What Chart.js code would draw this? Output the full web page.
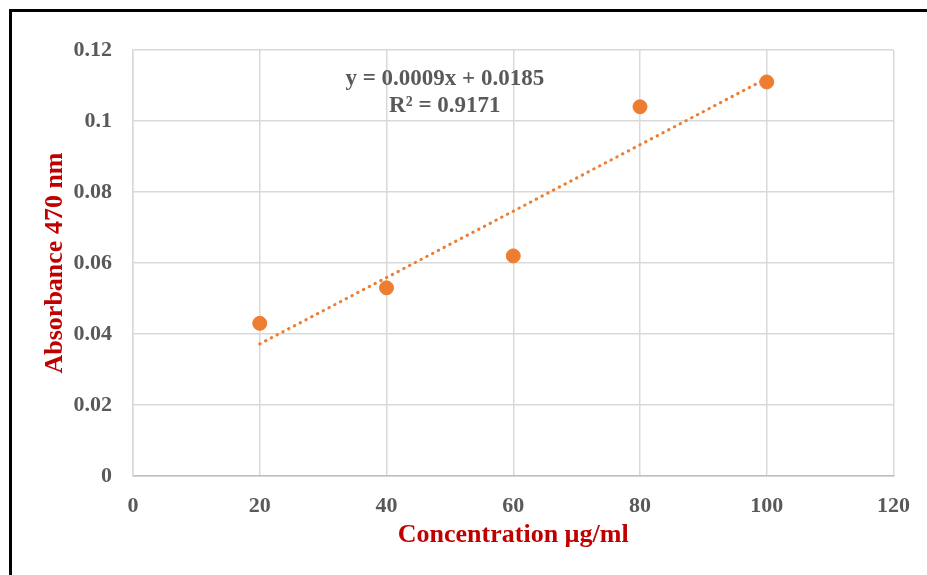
<!doctype html>
<html lang="en">
<head>
    <meta charset="UTF-8">
    <title>Absorbance calibration</title>
    <style>
        body { margin: 0; background: #fff; }
        #wrap { position: relative; width: 927px; height: 575px; overflow: hidden; }
        #frame { position: absolute; left: 9px; top: 9px; width: 1000px; height: 700px;
                 border: 3px solid #000; box-sizing: border-box; pointer-events: none; }
        canvas { position: absolute; left: 0; top: 0; }
    </style>
</head>
<body>
<div id="wrap">
    <canvas id="myChart" width="927" height="575"></canvas>
    <div id="frame"></div>
</div>
<script src="https://cdn.jsdelivr.net/npm/chart.js@4.4.1/dist/chart.umd.min.js"></script>
<script>
    // concentration (µg/ml) vs absorbance at 470 nm
    var concentration = [20, 40, 60, 80, 100];
    var absorbance = [0.043, 0.053, 0.062, 0.104, 0.111];
    var equationText = ["y = 0.0009x + 0.0185", "R\u00B2 = 0.9171"];

    var orange = "#ED7D31";
    var tickGray = "#595959";
    var titleRed = "#C00000";
    var serif = "'Liberation Serif', 'Times New Roman', serif";

    // least squares fit, like the excel trendline
    var fit = function (xs, ys) {
        var n = xs.length, mx = 0, my = 0;
        for (var i = 0; i < n; i++) { mx += xs[i]; my += ys[i]; }
        mx /= n; my /= n;
        var sxy = 0, sxx = 0;
        for (var i = 0; i < n; i++) {
            sxy += (xs[i] - mx) * (ys[i] - my);
            sxx += (xs[i] - mx) * (xs[i] - mx);
        }
        var slope = sxy / sxx;
        return {slope: slope, intercept: my - slope * mx};
    };

    var line = fit(concentration, absorbance);
    var xFirst = concentration[0], xLast = concentration[concentration.length - 1];
    var trendPoints = [
        {x: xFirst, y: line.slope * xFirst + line.intercept},
        {x: xLast, y: line.slope * xLast + line.intercept}
    ];

    var points = concentration.map(function (c, i) {
        return {x: c, y: absorbance[i]};
    });

    // draws the trendline label above the plot
    var equationLabel = {
        id: "equationLabel",
        afterDatasetsDraw: function (chart) {
            var ctx = chart.ctx;
            var xs = chart.scales.x, ys = chart.scales.y;
            var cx = xs.getPixelForValue(49.2);
            var cy = ys.getPixelForValue(0.1118);
            ctx.save();
            ctx.fillStyle = tickGray;
            ctx.font = "bold 23px " + serif;
            ctx.textAlign = "center";
            ctx.textBaseline = "middle";
            ctx.fillText(equationText[0], cx, cy);
            ctx.fillText(equationText[1], cx, cy + 27);
            ctx.restore();
        }
    };

    var ctx = document.getElementById("myChart").getContext("2d");
    var myChart = new Chart(ctx, {
        type: "scatter",
        data: {
            datasets: [
                {
                    label: "Absorbance",
                    data: points,
                    backgroundColor: orange,
                    borderColor: orange,
                    pointRadius: 7,
                    pointHoverRadius: 7,
                    order: 1
                },
                {
                    type: "line",
                    label: "Linear trend",
                    data: trendPoints,
                    borderColor: orange,
                    borderWidth: 3,
                    borderDash: [0.5, 6],
                    borderCapStyle: "round",
                    pointRadius: 0,
                    fill: false,
                    order: 2
                }
            ]
        },
        options: {
            responsive: false,
            animation: false,
            layout: {padding: {left: 0, top: 50, right: 29, bottom: 0}},
            plugins: {
                legend: {display: false},
                tooltip: {enabled: false}
            },
            scales: {
                x: {
                    type: "linear",
                    min: 0,
                    max: 120,
                    ticks: {
                        stepSize: 20,
                        color: tickGray,
                        padding: 17,
                        font: {family: serif, size: 22, weight: "bold"}
                    },
                    grid: {color: "#d9d9d9", lineWidth: 1.5, drawTicks: false},
                    border: {color: "#bfbfbf", width: 1.5},
                    title: {
                        display: true,
                        text: "Concentration \u00B5g/ml",
                        color: titleRed,
                        padding: {top: 0, bottom: 24},
                        font: {family: serif, size: 26, weight: "bold"}
                    },
                    afterFit: function (scale) { scale.height = 99; }
                },
                y: {
                    type: "linear",
                    min: 0,
                    max: 0.12,
                    ticks: {
                        stepSize: 0.02,
                        color: tickGray,
                        padding: 21,
                        font: {family: serif, size: 22, weight: "bold"},
                        callback: function (value) {
                            return String(parseFloat(value.toFixed(2)));
                        }
                    },
                    grid: {color: "#d9d9d9", lineWidth: 1.5, drawTicks: false},
                    border: {color: "#d9d9d9", width: 1.5},
                    title: {
                        display: true,
                        text: "Absorbance 470 nm",
                        color: titleRed,
                        padding: {top: 40, bottom: 0},
                        font: {family: serif, size: 26, weight: "bold"}
                    },
                    afterFit: function (scale) { scale.width = 133; }
                }
            }
        },
        plugins: [equationLabel]
    });
</script>
</body>
</html>
